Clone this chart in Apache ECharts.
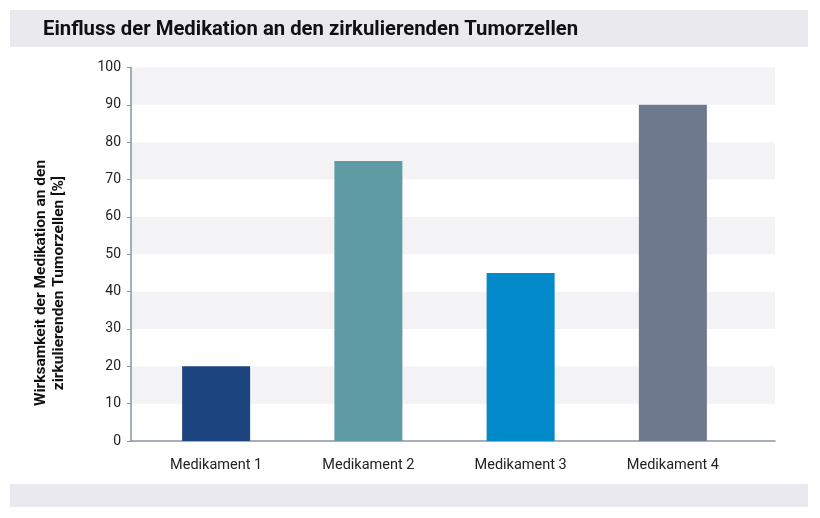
<!DOCTYPE html>
<html>
<head>
<meta charset="utf-8">
<script src="https://cdn.jsdelivr.net/npm/echarts@6/dist/echarts.min.js"></script>
<style>html,body{margin:0;padding:0;background:#fff;}#c{width:820px;height:518px;}</style>
</head>
<body>
<div id="c"></div>
<script>
const titleText = 'Einfluss der Medikation an den zirkulierenden Tumorzellen';
const yAxisTitle = 'Wirksamkeit der Medikation an den\nzirkulierenden Tumorzellen [%]';
const categories = ['Medikament 1', 'Medikament 2', 'Medikament 3', 'Medikament 4'];
const values = [20, 75, 45, 90];
const barColors = ['#1c4580', '#5f9ba5', '#0289c9', '#6d798d'];
const yMin = 0, yMax = 100, yStep = 10;

const chart = echarts.init(document.getElementById('c'));
const FONT = 'Roboto';
chart.setOption({
  animation: false,
  backgroundColor: '#ffffff',
  graphic: [
    { type: 'rect', left: 10, top: 10, shape: { width: 798, height: 37 }, style: { fill: '#e9e9ee' }, z: -10 },
    { type: 'rect', left: 10, top: 484, shape: { width: 798, height: 23 }, style: { fill: '#e9e9ee' }, z: -10 },
    { type: 'text', x: 43, y: 30, style: { text: titleText, font: 'bold 20.3px ' + FONT, fill: '#111', textVerticalAlign: 'middle' } },
    { type: 'text', x: 50, y: 283, rotation: Math.PI / 2,
      style: { text: yAxisTitle, font: 'bold 15.5px ' + FONT, fill: '#111', textAlign: 'center', textVerticalAlign: 'middle', lineHeight: 18 } }
  ],
  grid: [
    { left: 131, right: 45, top: 67.5, bottom: 77 },
    { left: 140, right: 71, top: 67.5, bottom: 77 }
  ],
  xAxis: [
    { gridIndex: 0, type: 'value', min: 0, max: 1,
      axisLine: { show: true, lineStyle: { color: '#8a93a5', width: 1.5 } },
      axisTick: { show: false }, axisLabel: { show: false }, splitLine: { show: false } },
    { gridIndex: 1, type: 'category', data: categories,
      axisLine: { show: false }, axisTick: { show: false },
      axisLabel: { fontFamily: FONT, fontSize: 14.5, color: '#222', margin: 17 } }
  ],
  yAxis: [
    { gridIndex: 0, type: 'value', min: yMin, max: yMax, interval: yStep,
      axisLine: { show: true, lineStyle: { color: '#8a93a5', width: 1.5 } },
      axisTick: { show: true, length: 4, lineStyle: { color: '#8a93a5' } },
      axisLabel: { fontFamily: FONT, fontSize: 14, color: '#222', margin: 10 },
      splitLine: { show: false },
      splitArea: { show: true, areaStyle: { color: ['#ffffff', '#f3f3f6'] } } },
    { gridIndex: 1, type: 'value', min: yMin, max: yMax, interval: yStep, show: false }
  ],
  series: [{
    type: 'bar', xAxisIndex: 1, yAxisIndex: 1, barWidth: 68,
    data: values.map((v, i) => ({ value: v, itemStyle: { color: barColors[i] } }))
  }]
});
</script>
</body>
</html>
